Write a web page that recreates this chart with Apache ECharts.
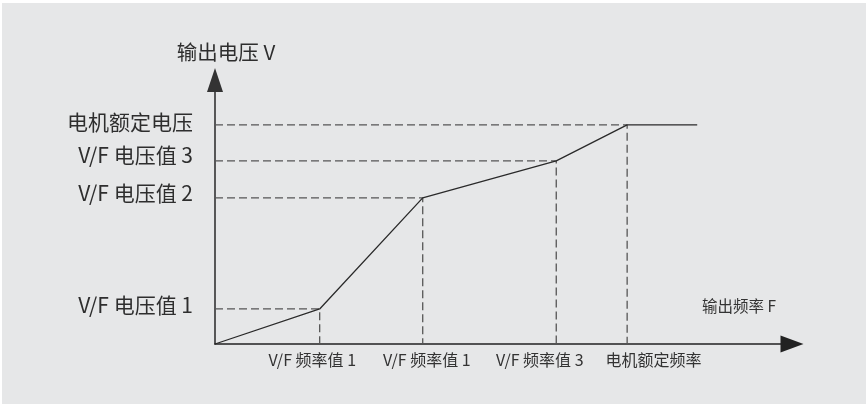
<!DOCTYPE html>
<html>
<head>
<meta charset="utf-8">
<script src="https://cdn.jsdelivr.net/npm/echarts@6/dist/echarts.min.js"></script>
<style>
html,body{margin:0;padding:0;background:#ffffff;}
#bg{position:absolute;left:2px;top:3px;width:864px;height:401px;background:#e6e7e8;}
#chart{position:absolute;left:0;top:0;width:866px;height:404px;}
</style>
</head>
<body>
<div id="bg"></div>
<div id="chart"></div>
<script>
// V/F curve: frequency breakpoints (Hz-like units) and voltage (% of rated)
const freqPoints = [0, 12.7, 25.2, 41.4, 50, 58.5];
const voltPoints = [0, 16.0, 66.7, 83.6, 100, 100];
// guide (dashed) points
const guideFreq = [12.7, 25.2, 41.4, 50];
const guideVolt = [16.0, 66.7, 83.6, 100];
// y tick labels (values where the label text is centred)
const yLabelValues = [17.8, 68.9, 86.3, 101.4];
const yTickLabels = ['V/F 电压值 1', 'V/F 电压值 2', 'V/F 电压值 3', '电机额定电压'];
// x tick labels (values where the label text is centred)
const xLabelValues = [11.8, 25.7, 39.4, 53.2];
const xTickLabels = ['V/F 频率值 1', 'V/F 频率值 1', 'V/F 频率值 3', '电机额定频率'];

const FONT = '"Noto Sans CJK SC", "Noto Sans", sans-serif';

const curve = freqPoints.map((f, i) => [f, voltPoints[i]]);
const guides = [];
guideFreq.forEach((f, i) => {
  guides.push([0, guideVolt[i]], [f, guideVolt[i]], [f, 0], '-');
});

const xLabelMap = {};
xLabelValues.forEach((v, i) => { xLabelMap[v] = xTickLabels[i]; });
const yLabelMap = {};
yLabelValues.forEach((v, i) => { yLabelMap[v] = yTickLabels[i]; });

const chart = echarts.init(document.getElementById('chart'), null, {renderer: 'canvas'});
chart.setOption({
  backgroundColor: 'transparent',
  animation: false,
  grid: {left: 215, right: 74, top: 80, bottom: 60, containLabel: false},
  xAxis: {
    type: 'value', min: 0, max: 70,
    splitLine: {show: false},
    axisTick: {show: false},
    axisLine: {show: true, symbol: ['none', 'triangle'], symbolSize: [17, 23],
      lineStyle: {color: '#222', width: 1.6}},
    axisLabel: {
      show: true, customValues: xLabelValues, margin: 8,
      formatter: v => xLabelMap[v] || '',
      color: '#333', fontSize: 16, fontFamily: FONT
    }
  },
  yAxis: {
    type: 'value', min: 0, max: 120.5,
    splitLine: {show: false},
    axisTick: {show: false},
    axisLine: {show: true, symbol: ['none', 'triangle'], symbolSize: [16, 24],
      lineStyle: {color: '#333', width: 1.6}},
    axisLabel: {
      show: true, customValues: yLabelValues, margin: 22,
      formatter: v => yLabelMap[v] || '',
      color: '#2e2e2e', fontSize: 21, fontFamily: FONT
    },
    name: '输出电压 V', nameLocation: 'end', nameGap: 18,
    nameTextStyle: {color: '#2e2e2e', fontSize: 20.5, fontFamily: FONT, padding: [0, 0, 0, 22]}
  },
  graphic: [{
    type: 'text', left: 702, top: 298,
    style: {text: '输出频率 F', fill: '#333', fontSize: 15.5, fontFamily: FONT}
  }],
  series: [
    {
      type: 'line', data: guides, showSymbol: false, connectNulls: false,
      lineStyle: {color: '#555', width: 1.3, type: [8, 4]}, z: 1, silent: true
    },
    {
      type: 'line', data: curve, showSymbol: false,
      lineStyle: {color: '#2a2a2a', width: 1.3}, z: 2, silent: true
    }
  ]
});
</script>
</body>
</html>
